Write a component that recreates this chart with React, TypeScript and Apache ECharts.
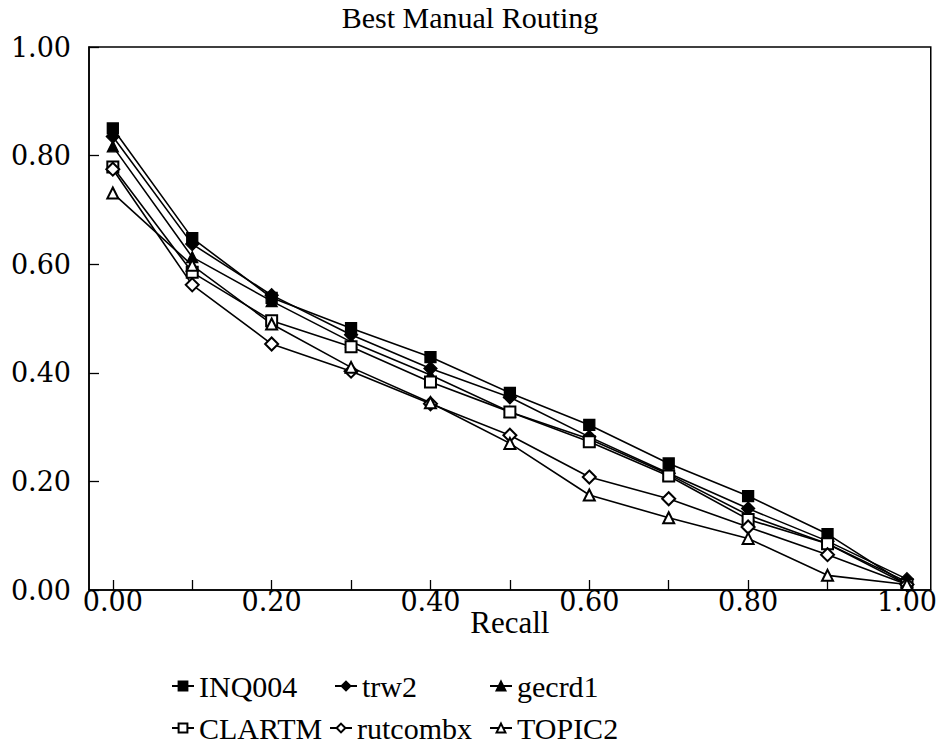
import React, { useEffect, useRef } from "react";
import * as echarts from "echarts";

const recall = [0, 0.1, 0.2, 0.3, 0.4, 0.5, 0.6, 0.7, 0.8, 0.9, 1.0];
const INQ004 = [0.85, 0.648, 0.538, 0.482, 0.429, 0.363, 0.304, 0.233, 0.173, 0.103, 0.01];
const trw2 = [0.835, 0.637, 0.543, 0.47, 0.408, 0.355, 0.282, 0.215, 0.15, 0.09, 0.02];
const gecrd1 = [0.817, 0.613, 0.532, 0.457, 0.396, 0.328, 0.278, 0.213, 0.138, 0.085, 0.015];
const CLARTM = [0.779, 0.585, 0.496, 0.448, 0.383, 0.328, 0.273, 0.21, 0.13, 0.085, 0.01];
const rutcombx = [0.775, 0.562, 0.453, 0.403, 0.343, 0.285, 0.208, 0.168, 0.116, 0.065, 0.01];
const TOPIC2 = [0.731, 0.598, 0.49, 0.41, 0.345, 0.27, 0.175, 0.133, 0.095, 0.027, 0.01];

const seriesNames = ["INQ004", "trw2", "gecrd1", "CLARTM", "rutcombx", "TOPIC2"];
const seriesValues = [INQ004, trw2, gecrd1, CLARTM, rutcombx, TOPIC2];
const seriesSymbols = ["rect", "diamond", "triangle", "emptyRect", "emptyDiamond", "emptyTriangle"];
const xTicks = [0, 0.1, 0.2, 0.3, 0.4, 0.5, 0.6, 0.7, 0.8, 0.9, 1.0];
const xLabels = [0, 0.2, 0.4, 0.6, 0.8, 1.0];

const legendPos = [
  { left: 166, top: 666 },
  { left: 329, top: 666 },
  { left: 484, top: 666 },
  { left: 166, top: 708 },
  { left: 324, top: 708 },
  { left: 484, top: 708 },
];

const serif = "'Liberation Serif', 'Times New Roman', Times, serif";
const tickFont = "'DejaVu Serif', serif";

export default function App() {
  const ref = useRef<HTMLDivElement>(null);
  useEffect(() => {
    if (!ref.current) return;
    const chart = echarts.init(ref.current, undefined, { renderer: "svg" });
    const series = seriesNames.map((name, i) => ({
      name,
      type: "line",
      data: recall.map((r, j) => [r, seriesValues[i][j]]),
      symbol: seriesSymbols[i],
      symbolSize: i === 1 || i === 4 ? 13 : 11,
      showSymbol: true,
      lineStyle: { color: "#000", width: 1.6 },
      itemStyle: { color: "#000", borderColor: "#000", borderWidth: 1.3 },
      emphasis: { disabled: true },
    }));
    const legendText = { fontFamily: serif, fontSize: 30, color: "#000", fontWeight: "normal" };
    chart.setOption({
      animation: false,
      backgroundColor: "#fff",
      textStyle: { fontFamily: serif },
      title: {
        text: "Best Manual Routing",
        left: "center",
        top: -3,
        textStyle: { fontFamily: serif, fontSize: 30, fontWeight: "normal", color: "#000" },
      },
      legend: seriesNames.map((name, i) => ({
        data: [{ name, textStyle: legendText }],
        left: legendPos[i].left,
        top: legendPos[i].top,
        itemWidth: 22,
        itemHeight: 11,
        itemGap: 4,
        textStyle: legendText,
        selectedMode: false,
      })),
      grid: {
        left: 89,
        right: 8,
        top: 47,
        bottom: 161,
        show: true,
        borderColor: "#000",
        borderWidth: 1.5,
        backgroundColor: "transparent",
      },
      xAxis: {
        type: "value",
        min: -0.03,
        max: 1.03,
        name: "Recall",
        nameLocation: "middle",
        nameGap: 17,
        nameMoveOverlap: false,
        nameTextStyle: { fontFamily: serif, fontSize: 31, color: "#000" },
        axisLine: { show: true, onZero: false, lineStyle: { color: "#000", width: 1.5 } },
        axisTick: { show: true, inside: true, length: 10, customValues: xTicks, lineStyle: { color: "#000", width: 1.3 } },
        axisLabel: {
          customValues: xLabels,
          formatter: (v: number) => v.toFixed(2),
          fontFamily: tickFont,
          fontSize: 27,
          color: "#000",
          margin: -2,
        },
        splitLine: { show: false },
      },
      yAxis: {
        type: "value",
        min: 0,
        max: 1,
        interval: 0.2,
        axisLine: { show: true, onZero: false, lineStyle: { color: "#000", width: 1.5 } },
        axisTick: { show: true, inside: true, length: 10, lineStyle: { color: "#000", width: 1.3 } },
        axisLabel: {
          formatter: (v: number) => v.toFixed(2),
          fontFamily: tickFont,
          fontSize: 27,
          color: "#000",
          margin: 18,
        },
        splitLine: { show: false },
      },
      series,
    });
    return () => chart.dispose();
  }, []);
  return <div ref={ref} style={{ width: 940, height: 751, position: "absolute", left: 0, top: 0 }} />;
}
